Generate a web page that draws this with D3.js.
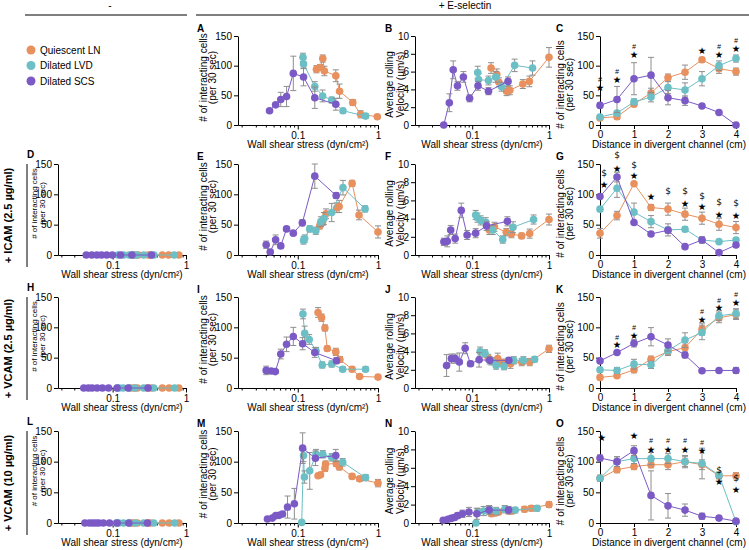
<!DOCTYPE html>
<html><head><meta charset="utf-8">
<script src="https://cdn.jsdelivr.net/npm/d3@7/dist/d3.min.js"></script>
<style>body{margin:0;background:#fff}svg{display:block}</style>
</head><body><svg id="c" width="749" height="550"></svg>
<script>
// ---------- labels ----------
const seriesNames = ["Quiescent LN", "Dilated LVD", "Dilated SCS"];
const seriesColors = ["#E8915F", "#6CBFC5", "#7B5AC6"];
const rowLabels = ["+ ICAM (2.5 µg/ml)", "+ VCAM (2.5 µg/ml)", "+ VCAM (10 µg/ml)"];
const countTicks = [0, 50, 100, 150];
const velTicks = [0, 2, 4, 6, 8, 10];
const distTicks = [0, 1, 2, 3, 4];
const shearTicks = [0.1, 1];
const shearMinor = [0.02,0.03,0.04,0.05,0.06,0.07,0.08,0.09,0.2,0.3,0.4,0.5,0.6,0.7,0.8,0.9];
const distance = [0, 0.5, 1, 1.5, 2, 2.5, 3, 3.5, 4];

// ---------- data: shear panels [shear, value, sem] ----------
const A_q = [[0.171,94,6],[0.19,97,5],[0.205,112,6],[0.215,91,8],[0.298,83,10],[0.332,57,12],[0.485,38,5],[0.607,18,6],[0.98,14,3]];
const A_l = [[0.116,114,7],[0.118,103,8],[0.163,65,8],[0.204,49,10],[0.265,42,5],[0.366,24,4],[0.70,15,4]];
const A_s = [[0.0445,24,3],[0.053,34,3],[0.0614,43,12],[0.0725,48,17],[0.088,87,29],[0.118,81,15],[0.163,46,18],[0.298,35,10]];

const B_q = [[0.176,6.4,0.6],[0.209,5.7,0.6],[0.223,4.8,0.5],[0.28,3.8,0.5],[0.309,3.9,0.5],[0.456,4.6,0.5],[0.555,4.9,0.6],[1.0,7.6,1.1]];
const B_l = [[0.118,5.9,0.7],[0.121,5.1,0.7],[0.163,5.0,0.5],[0.202,5.4,0.6],[0.241,4.3,0.5],[0.357,6.7,0.7],[0.61,6.4,0.8]];
const B_s = [[0.0426,0,0],[0.0504,2.5,1.0],[0.0566,6.2,1.0],[0.0643,4.4,0.5],[0.0768,5.4,0.6],[0.0925,3.0,0.4],[0.119,4.4,0.5],[0.163,3.8,0.4],[0.293,4.9,0.5]];

const D_q = [0.188,0.204,0.225,0.307,0.328,0.476,0.58,0.8];
const D_l = [0.118,0.141,0.168,0.194,0.212,0.265,0.366,0.69];
const D_s = [0.0437,0.052,0.061,0.0706,0.083,0.099,0.128,0.183,0.338];

const E_q = [[0.188,48,5],[0.204,55,6],[0.225,68,8],[0.307,78,8],[0.328,80,10],[0.476,118,5],[0.58,66,8],[1.0,38,10]];
const E_l = [[0.118,24,6],[0.122,27,6],[0.141,43,5],[0.168,40,6],[0.194,55,8],[0.212,60,10],[0.265,70,15],[0.366,111,12],[0.69,76,5]];
const E_s = [[0.0404,17,6],[0.0454,5,4],[0.053,25,8],[0.0614,15,4],[0.0725,43,4],[0.088,36,4],[0.114,53,5],[0.163,130,20],[0.301,98,5]];

const F_q = [[0.167,2.75,0.5],[0.195,3.1,0.5],[0.278,2.5,0.4],[0.324,2.3,0.4],[0.44,2.1,0.3],[0.56,2.35,0.5],[1.0,3.9,0.6]];
const F_l = [[0.111,4.4,0.5],[0.117,4.1,0.5],[0.129,3.8,0.5],[0.15,3.6,0.5],[0.185,2.75,0.5],[0.25,1.7,0.4],[0.34,3.05,0.6],[0.63,3.9,0.5]];
const F_s = [[0.0428,1.45,0.4],[0.0474,1.5,0.6],[0.0525,2.75,0.5],[0.06,1.8,0.5],[0.072,4.9,0.8],[0.0858,2.2,0.5],[0.111,2.4,0.5],[0.154,3.2,0.5],[0.287,3.7,0.5]];

const H_q = [0.179,0.198,0.218,0.298,0.335,0.476,0.59,0.8];
const H_l = [0.116,0.122,0.139,0.169,0.202,0.265,0.363,0.70];
const H_s = [0.0404,0.0467,0.0525,0.0614,0.0725,0.088,0.115,0.163,0.304];

const I_q = [[0.179,124.5,8],[0.198,116,6],[0.218,99,5],[0.233,65,4],[0.298,59.5,6],[0.335,47,5],[0.476,31,4],[0.59,19,3],[1.0,18,3]];
const I_l = [[0.116,122,8],[0.122,90,12],[0.139,80,8],[0.169,61,6],[0.202,38,5],[0.265,39.5,5],[0.363,31,4],[0.70,31,4]];
const I_s = [[0.0404,29,7],[0.0467,28,4],[0.0525,27,3],[0.0614,56,8],[0.0725,72,12],[0.088,85,15],[0.115,73,10],[0.163,58.5,8],[0.304,45,5]];

const J_q = [[0.162,3.3,0.4],[0.215,3.23,0.6],[0.249,2.78,0.4],[0.316,2.66,0.5],[0.442,2.85,0.4],[0.562,2.85,0.4],[1.0,4.3,0.4]];
const J_l = [[0.127,4.0,0.5],[0.147,3.8,0.4],[0.178,2.93,0.4],[0.205,2.47,0.4],[0.26,2.4,0.4],[0.348,3.04,0.4],[0.464,3.04,0.4],[0.65,3.15,0.3]];
const J_s = [[0.0464,2.47,1.2],[0.0536,3.23,0.5],[0.0601,3.23,0.5],[0.068,2.85,1.0],[0.081,4.37,0.6],[0.095,2.66,0.3],[0.123,3.1,0.8],[0.169,3.04,0.4],[0.30,3.04,0.3]];

const L_q = [0.179,0.192,0.218,0.302,0.33,0.476,0.59,0.8];
const L_l = [0.112,0.121,0.141,0.169,0.205,0.265,0.363,0.70];
const L_s = [0.0419,0.0482,0.0532,0.0587,0.0645,0.0746,0.0907,0.115,0.166,0.298];

const M_q = [[0.179,77,3],[0.192,78.5,3],[0.218,89,5],[0.222,96,5],[0.302,97,5],[0.33,91.5,5],[0.476,76,4],[0.59,72,4],[1.0,65,6]];
const M_l = [[0.112,1,0],[0.118,110,10],[0.121,75,10],[0.141,85,30],[0.169,112,8],[0.205,112,6],[0.265,107,6],[0.363,99,6],[0.70,74,5]];
const M_s = [[0.0419,6.5,2],[0.0482,8,2],[0.0532,12,3],[0.0587,12.5,3],[0.0645,14.6,4],[0.0746,26,18],[0.0907,31.4,25],[0.115,122,25],[0.166,105.6,12],[0.298,110,10]];

const N_q = [[0.179,1.0,0.3],[0.2,1.1,0.3],[0.22,1.2,0.3],[0.3,1.3,0.3],[0.33,1.3,0.3],[0.48,1.5,0.3],[0.59,1.6,0.3],[1.0,2.0,0.3]];
const N_l = [[0.112,0,0],[0.118,1.2,0.4],[0.141,1.3,0.5],[0.169,1.4,0.4],[0.205,1.3,0.4],[0.265,1.5,0.4],[0.363,1.4,0.3],[0.70,1.6,0.3]];
const N_s = [[0.0419,0.3,0.2],[0.0482,0.4,0.2],[0.0532,0.5,0.2],[0.0587,0.6,0.3],[0.0645,0.8,0.3],[0.0746,1.0,0.4],[0.0907,1.2,0.5],[0.115,1.0,0.6],[0.166,1.4,0.5],[0.298,1.4,0.4]];

// ---------- data: distance panels [value, sem] at distance[] ----------
const C_q = [[12,3],[14,4],[35,4],[54,8],[80,6],[89,12],[110,4],[95,8],[90,6]];
const C_l = [[13.5,4],[20,4],[39,5],[47,8],[63,10],[59,12],[78,12],[100,8],[112,6]];
const C_s = [[33,4],[43,22],[78,27],[84,30],[46,12],[41,8],[32,3],[21,3],[0,2]];
const G_q = [[35.8,8],[65,7],[117.5,3],[78.3,5],[75.6,10],[67.3,10],[60.7,10],[50.7,10],[45.2,10]];
const G_l = [[75.6,3],[110,15],[70.6,15],[55,10],[41.4,10],[42.5,4],[24.8,5],[22,3],[24.8,3]];
const G_s = [[96.5,3],[128.5,8],[53.5,3],[34.7,3],[40.8,5],[13.8,3],[24.8,5],[3.9,2],[16.5,3]];
const K_q = [[17.5,3],[20.2,3],[30,5],[47.5,5],[60,5],[66.5,8],[97,10],[115.6,8],[121,8]];
const K_l = [[30,4],[28.9,5],[39.3,8],[38.2,6],[61.6,8],[79,12],[91.6,12],[119,8],[122.7,8]];
const K_s = [[44.7,3],[58.4,3],[73.6,6],[84.5,15],[70.9,10],[54.5,5],[28.4,3],[28.9,3],[28.9,5]];
const O_q = [[73,3],[87,5],[92,5],[95,5],[95,8],[100,8],[95,8],[77,5],[77,5]];
const O_l = [[73,5],[100,8],[105,8],[105,10],[105,8],[100,10],[97,25],[78,5],[2,2]];
const O_s = [[106,5],[100,8],[118,8],[45,40],[28,20],[21,10],[11,5],[8,3],[3,3]];

// ---------- significance marks [distance, value, symbol] ----------
const C_marks = [[0,63,"★"],[0,76,"#"],[0.5,77,"★"],[0.5,91,"#"],[1,119,"★"],[1,132,"#"],[3,125,"★"],[3.5,118,"★"],[3.5,132,"#"],[4,129,"★"],[4,143,"#"]];
const G_marks = [[0.12,116,"★"],[0.12,135,"$"],[0.5,143,"★"],[0.5,165,"$"],[1,131,"★"],[1,149,"$"],[1.5,97,"★"],[2,106,"$"],[2.5,85,"★"],[2.5,106,"$"],[3,80,"★"],[3,98,"$"],[3.5,67,"★"],[3.5,87,"$"],[4,65,"★"],[4,85,"$"]];
const K_marks = [[0.5,72,"★"],[0.5,84,"#"],[1,87,"★"],[1,99,"#"],[3,113.5,"★"],[3,126,"#"],[3.5,132,"★"],[3.5,145,"#"],[4,140.7,"★"],[4,154,"#"]];
const O_marks = [[0.05,140,"★"],[1,143,"★"],[1.5,120,"★"],[1.5,134,"#"],[2,120,"★"],[2,134,"#"],[2.5,120,"★"],[2.5,134,"#"],[3,118,"★"],[3,132,"#"],[3.5,67,"★"],[3.5,86,"$"],[4,54,"★"],[4,73,"$"]];

// ---------- layout ----------
const FONT = '"Liberation Sans", Arial, Helvetica, sans-serif';
const ERR = "#8e8e8e";
const colX = {1:[58,186], 2:[238,378], 3:[415,549], 4:[600,736]};
const rowY = {1:[36,125], 2:[164,255], 3:[297,388], 4:[431,523]};
const svg = d3.select("#c");

function styleAxis(g, fs){
  g.attr("font-family", FONT).attr("font-size", fs || 10);
  g.selectAll("path,line").attr("stroke", "#000").attr("stroke-width", 1);
  g.selectAll("text").attr("fill", "#000");
}

function drawPanel(p){
  const [x0, x1] = colX[p.col], [yt, yb] = rowY[p.row];
  const g = svg.append("g");
  const x = p.kind === "dist" ? d3.scaleLinear().domain([0, 4]).range([x0, x1])
                              : d3.scaleLog().domain([0.018, 1]).range([x0, x1]);
  const isVel = p.yk === "vel";
  const y = d3.scaleLinear().domain([0, isVel ? 10 : 150]).range([yb, yt]);

  // axes
  const ya = g.append("g").attr("transform", `translate(${x0},0)`)
    .call(d3.axisLeft(y).tickValues(isVel ? velTicks : countTicks).tickSize(4).tickSizeOuter(0).tickPadding(2));
  styleAxis(ya, 10);
  if (p.kind === "dist") {
    const xa = g.append("g").attr("transform", `translate(0,${yb})`)
      .call(d3.axisBottom(x).tickValues(distTicks).tickFormat(d3.format("d")).tickSize(4).tickSizeOuter(0).tickPadding(2));
    styleAxis(xa, 10);
  } else {
    const xm = g.append("g").attr("transform", `translate(0,${yb})`)
      .call(d3.axisBottom(x).tickValues(shearMinor).tickFormat("").tickSize(2.5).tickSizeOuter(0));
    styleAxis(xm);
    const xa = g.append("g").attr("transform", `translate(0,${yb})`)
      .call(d3.axisBottom(x).tickValues(shearTicks).tickFormat(d3.format("~g")).tickSize(4.5).tickSizeOuter(0).tickPadding(2));
    styleAxis(xa, 10);
  }
  // x label
  g.append("text").attr("x", (x0 + x1) / 2 + (p.kind === "dist" ? 1 : 0)).attr("y", yb + 23)
    .attr("text-anchor", "middle").attr("font-family", FONT).attr("font-size", 10).attr("fill", "#000")
    .text(p.kind === "dist" ? "Distance in divergent channel (cm)" : "Wall shear stress (dyn/cm²)");
  // y label
  const yl = isVel ? ["Average rolling", "Velocity (µm/s)"] : ["# of interacting cells", "(per 30 sec)"];
  const off = p.col === 1 ? [-21, -13] : p.col === 3 ? [-22, -11] : p.col === 4 ? [-36, -27] : [-31, -22];
  const fs = p.col === 1 ? 8 : 10;
  const cy = (yt + yb) / 2 + (p.col === 1 ? -6 : p.col === 2 ? -3 : 4);
  yl.forEach((t, i) => {
    g.append("text").attr("transform", `translate(${x0 + off[i]},${cy}) rotate(-90)`)
      .attr("text-anchor", "middle").attr("font-family", FONT).attr("font-size", fs).attr("fill", "#000").text(t);
  });
  // panel letter
  const lx = {1:27, 2:197, 3:385, 4:556}[p.col];
  g.append("text").attr("x", lx).attr("y", yt - (p.col === 1 ? 6 : 4)).attr("font-family", FONT)
    .attr("font-size", 10).attr("font-weight", "bold").attr("fill", "#000").text(p.letter);

  // series: orange, teal, purple
  p.series.forEach((s, si) => {
    let pts;
    if (p.kind === "zero") pts = s.map(v => [v, 0, 0]);
    else if (p.kind === "dist") pts = s.map((d, i) => [distance[i], d[0], d[1]]);
    else pts = s;
    const col = seriesColors[si];
    g.append("path").datum(pts).attr("fill", "none").attr("stroke", col).attr("stroke-width", 1)
      .attr("d", d3.line().x(d => x(d[0])).y(d => y(d[1])));
    const eb = g.append("g").attr("stroke", ERR).attr("stroke-width", 1);
    pts.filter(d => d[2] > 0).forEach(d => {
      const cx = x(d[0]), ylo = y(Math.max(0, d[1] - d[2])), yhi = y(d[1] + d[2]);
      eb.append("line").attr("x1", cx).attr("x2", cx).attr("y1", ylo).attr("y2", yhi);
      eb.append("line").attr("x1", cx - 3).attr("x2", cx + 3).attr("y1", yhi).attr("y2", yhi);
      eb.append("line").attr("x1", cx - 3).attr("x2", cx + 3).attr("y1", ylo).attr("y2", ylo);
    });
    g.selectAll(null).data(pts).enter().append("circle")
      .attr("cx", d => x(d[0])).attr("cy", d => y(d[1])).attr("r", 3.8).attr("fill", col);
  });
  // significance marks
  (p.marks || []).forEach(m => {
    const sym = m[2];
    g.append("text").attr("x", x(m[0])).attr("y", y(m[1])).attr("text-anchor", "middle")
      .attr("dominant-baseline", "central").attr("fill", "#000")
      .attr("font-family", sym === "#" ? FONT : "DejaVu Sans")
      .attr("font-size", sym === "★" ? 9.5 : sym === "#" ? 7 : 9)
      .attr("font-style", sym === "#" ? "italic" : "normal")
      .text(sym);
  });
}

const panels = [
  {letter:"A", col:2, row:1, kind:"shear", yk:"count", series:[A_q, A_l, A_s]},
  {letter:"B", col:3, row:1, kind:"shear", yk:"vel", series:[B_q, B_l, B_s]},
  {letter:"C", col:4, row:1, kind:"dist", yk:"count", series:[C_q, C_l, C_s], marks:C_marks},
  {letter:"D", col:1, row:2, kind:"zero", yk:"count", series:[D_q, D_l, D_s]},
  {letter:"E", col:2, row:2, kind:"shear", yk:"count", series:[E_q, E_l, E_s]},
  {letter:"F", col:3, row:2, kind:"shear", yk:"vel", series:[F_q, F_l, F_s]},
  {letter:"G", col:4, row:2, kind:"dist", yk:"count", series:[G_q, G_l, G_s], marks:G_marks},
  {letter:"H", col:1, row:3, kind:"zero", yk:"count", series:[H_q, H_l, H_s]},
  {letter:"I", col:2, row:3, kind:"shear", yk:"count", series:[I_q, I_l, I_s]},
  {letter:"J", col:3, row:3, kind:"shear", yk:"vel", series:[J_q, J_l, J_s]},
  {letter:"K", col:4, row:3, kind:"dist", yk:"count", series:[K_q, K_l, K_s], marks:K_marks},
  {letter:"L", col:1, row:4, kind:"zero", yk:"count", series:[L_q, L_l, L_s]},
  {letter:"M", col:2, row:4, kind:"shear", yk:"count", series:[M_q, M_l, M_s]},
  {letter:"N", col:3, row:4, kind:"shear", yk:"vel", series:[N_q, N_l, N_s]},
  {letter:"O", col:4, row:4, kind:"dist", yk:"count", series:[O_q, O_l, O_s], marks:O_marks}
];
panels.forEach(drawPanel);

// headers
svg.append("text").attr("x", 110).attr("y", 9).attr("text-anchor", "middle").attr("font-family", FONT).attr("font-size", 10).attr("fill", "#000").text("-");
svg.append("line").attr("x1", 25).attr("x2", 187).attr("y1", 15).attr("y2", 15).attr("stroke", "#000").attr("stroke-width", 1);
svg.append("text").attr("x", 465).attr("y", 9).attr("text-anchor", "middle").attr("font-family", FONT).attr("font-size", 10).attr("fill", "#000").text("+ E-selectin");
svg.append("line").attr("x1", 196).attr("x2", 749).attr("y1", 15).attr("y2", 15).attr("stroke", "#000").attr("stroke-width", 1);

// row labels with separators
rowLabels.forEach((t, i) => {
  const [yt, yb] = rowY[i + 2];
  const cy = (yt + yb) / 2 + 6;
  svg.append("text").attr("transform", `translate(12,${cy}) rotate(-90)`).attr("text-anchor", "middle")
    .attr("font-family", FONT).attr("font-size", 11).attr("font-weight", "bold").attr("fill", "#000").text(t);
  svg.append("line").attr("x1", 27).attr("x2", 27).attr("y1", yt).attr("y2", yb + 12)
    .attr("stroke", "#000").attr("stroke-width", 1);
});

// legend
const lg = svg.append("g");
seriesNames.forEach((n, i) => {
  const yy = 50 + i * 15.5;
  lg.append("circle").attr("cx", 31).attr("cy", yy).attr("r", 4.5).attr("fill", seriesColors[i]);
  lg.append("text").attr("x", 40).attr("y", yy).attr("dominant-baseline", "central")
    .attr("font-family", FONT).attr("font-size", 10).attr("fill", "#000").text(n);
});
</script></body></html>
